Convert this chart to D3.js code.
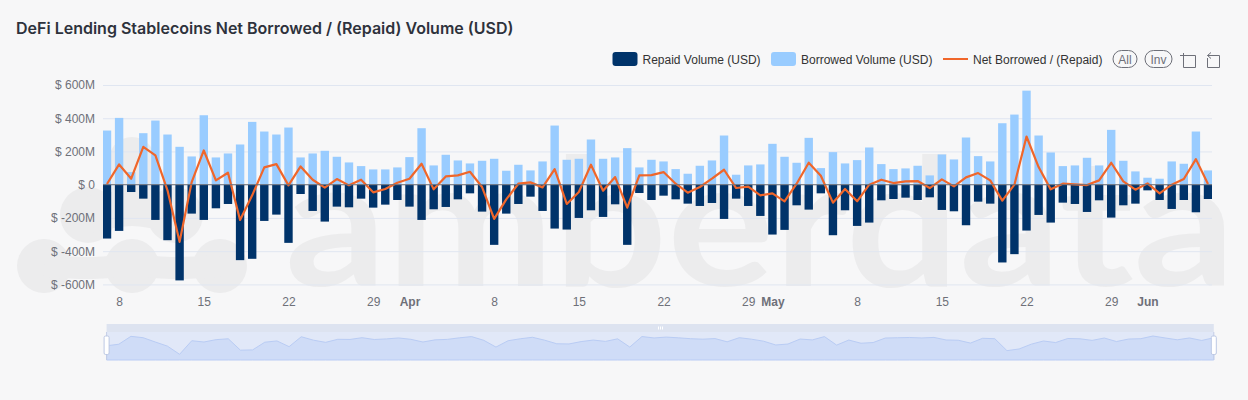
<!DOCTYPE html>
<html>
<head>
<meta charset="utf-8">
<script src="https://cdn.jsdelivr.net/npm/d3@7"></script>
<style>
  html, body { margin: 0; padding: 0; background: #f7f7f8; }
  svg { display: block; }
</style>
</head>
<body>
<div id="chart"></div>
<script>
const titleText = "DeFi Lending Stablecoins Net Borrowed / (Repaid) Volume (USD)"
const startDate = "2023-03-07"
const yTicks = [600, 400, 200, 0, -200, -400, -600]
const xTickDays = ["03-08", "03-15", "03-22", "03-29", "04-01", "04-08", "04-15", "04-22", "04-29", "05-01", "05-08", "05-15", "05-22", "05-29", "06-01"]
const monthLabels = { "04-01": "Apr", "05-01": "May", "06-01": "Jun" }

// $M
const borrowed = [326, 402, 76, 310, 386, 302, 228, 170, 418, 164, 188, 242, 378, 320, 302, 344, 164, 188, 204, 168, 134, 112, 92, 92, 104, 166,
  340, 116, 180, 146, 128, 144, 156, 84, 120, 86, 140, 356, 150, 156, 272, 156, 164, 220, 104, 150, 140, 94, 66, 114, 146, 296, 60, 116, 122,
  246, 168, 132, 282, 100, 196, 128, 148, 224, 124, 94, 98, 114, 56, 182, 152, 284, 172, 140, 370, 422, 566, 296, 194, 112, 116, 162, 116, 330, 144, 80,
  42, 36, 140, 126, 320, 86]
const repaid = [-324, -278, -44, -84, -212, -334, -576, -174, -212, -142, -116, -454, -446, -218, -180, -350, -56, -158, -222, -132, -136, -84, -138, -120, -92, -132,
  -212, -148, -134, -88, -52, -162, -362, -174, -116, -72, -158, -264, -270, -200, -154, -194, -118, -362, -50, -92, -66, -88, -114, -128, -110, -206, -84, -128, -188,
  -300, -272, -124, -150, -52, -304, -154, -248, -228, -94, -86, -78, -92, -76, -152, -160, -244, -102, -114, -468, -418, -276, -182, -228, -108, -116, -164, -94, -198, -124, -114,
  -34, -92, -146, -92, -166, -86]
const net = [4, 122, 36, 228, 176, -34, -344, 16, 206, 26, 72, -212, -64, 104, 124, -4, 110, 30, -18, 34, -4, 30, -46, -26, 12, 36,
  126, -28, 50, 56, 78, -14, -206, -88, 6, 14, -16, 94, -116, -44, 120, -36, 46, -138, 56, 58, 76, 6, -48, -14, 36, 90, -20, -12, -64,
  -52, -100, 6, 132, 54, -108, -26, -100, 0, 30, 10, 20, 22, -20, 32, -10, 44, 70, 26, -96, 0, 290, 106, -28, 6, 2, -2, 26, 132, 20, -30,
  8, -52, 0, 34, 154, 4]

const legendItems = [
  { name: "Repaid Volume (USD)", color: "#00336a", kind: "bar", x: 612.5 },
  { name: "Borrowed Volume (USD)", color: "#99ccff", kind: "bar", x: 771 },
  { name: "Net Borrowed / (Repaid)", color: "#f0662a", kind: "line", x: 943 }
]

const width = 1248
const height = 400
const parseDay = d3.timeParse("%Y-%m-%d")
const dates = borrowed.map((d, i) => d3.timeDay.offset(parseDay(startDate), i))

const svg = d3.select("#chart").append("svg")
  .attr("width", width)
  .attr("height", height)
  .style("font-family", "'Liberation Sans', Arial, sans-serif")

// watermark
const markColor = "#ececed"
const mark = svg.append("g").attr("fill", markColor)
mark.append("text")
  .attr("x", 285)
  .attr("y", 286)
  .attr("font-family", "Lato")
  .attr("font-size", 178)
  .attr("font-weight", 700)
  .attr("textLength", 950)
  .attr("lengthAdjust", "spacingAndGlyphs")
  .text("amberdata")
const logoBlobs = [[132, 160, 23], [88, 215, 28], [175, 215, 28], [44, 266, 27], [132, 266, 27], [220, 266, 27]]
mark.selectAll("circle").data(logoBlobs).join("circle")
  .attr("cx", d => d[0]).attr("cy", d => d[1]).attr("r", d => d[2])
const logoLink = d3.line().curve(d3.curveCatmullRom)
mark.append("path")
  .attr("fill", "none").attr("stroke", markColor).attr("stroke-width", 22)
  .attr("d", logoLink([[44, 266], [88, 268], [132, 266], [176, 268], [220, 266]]))
mark.append("path")
  .attr("fill", "none").attr("stroke", markColor).attr("stroke-width", 36)
  .attr("d", logoLink([[88, 215], [132, 208], [175, 215]]))
mark.append("path")
  .attr("fill", "none").attr("stroke", markColor).attr("stroke-width", 40)
  .attr("d", logoLink([[132, 160], [132, 205]]))

svg.append("text")
  .attr("x", 16).attr("y", 34)
  .attr("font-family", "Inter").attr("font-size", 16).attr("font-weight", 600)
  .attr("fill", "#2e323c")
  .text(titleText)

const x = d3.scalePoint()
  .domain(d3.range(dates.length))
  .range([107, 1208])
const barWidth = 8.4

const y = d3.scaleLinear()
  .domain([-600, 600])
  .range([284.4, 85])

const timeX = d3.scaleTime()
  .domain([dates[0], dates[dates.length - 1]])
  .range([107, 1208])

const yAxis = d3.axisLeft(y)
  .tickValues(yTicks)
  .tickSize(-(1212 - 103))
  .tickPadding(8)
  .tickFormat(d => d === 0 ? "$ 0" : `$ ${d}M`)

svg.append("g")
  .attr("transform", "translate(103,0)")
  .call(yAxis)
  .call(g => g.select(".domain").remove())
  .call(g => g.selectAll(".tick line").attr("stroke", "#e0e6f1"))
  .call(g => g.selectAll(".tick text").attr("fill", "#6e7079").attr("font-size", 12).attr("font-family", "'Liberation Sans'"))

svg.append("clipPath").attr("id", "plot-clip").append("rect")
  .attr("x", 103).attr("y", 60).attr("width", 1109).attr("height", 240)
const plot = svg.append("g").attr("clip-path", "url(#plot-clip)")

plot.append("g").selectAll("rect").data(borrowed).join("rect")
  .attr("x", (d, i) => x(i) - barWidth / 2)
  .attr("width", barWidth)
  .attr("y", d => y(d))
  .attr("height", d => y(0) - y(d))
  .attr("fill", "#99ccff")

plot.append("g").selectAll("rect").data(repaid).join("rect")
  .attr("x", (d, i) => x(i) - barWidth / 2)
  .attr("width", barWidth)
  .attr("y", y(0))
  .attr("height", d => y(d) - y(0))
  .attr("fill", "#00336a")

svg.append("line")
  .attr("x1", 103).attr("x2", 1212)
  .attr("y1", y(0)).attr("y2", y(0))
  .attr("stroke", "#6e7079")

plot.append("path")
  .datum(net)
  .attr("fill", "none")
  .attr("stroke", "#f0662a")
  .attr("stroke-width", 2.2)
  .attr("stroke-linejoin", "round")
  .attr("d", d3.line().x((d, i) => x(i)).y(d => y(d)))

const xAxis = d3.axisBottom(timeX)
  .tickValues(xTickDays.map(d => parseDay("2023-" + d)))
  .tickSize(0)
  .tickPadding(7)
  .tickFormat(d => {
    const key = d3.timeFormat("%m-%d")(d)
    return monthLabels[key] || d3.timeFormat("%-d")(d)
  })

svg.append("g")
  .attr("transform", "translate(0,290)")
  .call(xAxis)
  .call(g => g.select(".domain").remove())
  .call(g => g.selectAll(".tick text")
    .attr("fill", "#6e7079")
    .attr("font-size", 12)
    .attr("font-family", "'Liberation Sans'")
    .attr("font-weight", d => monthLabels[d3.timeFormat("%m-%d")(d)] ? 700 : 400))

// legend
const legend = svg.append("g")
legendItems.forEach(item => {
  if (item.kind === "bar") {
    legend.append("rect")
      .attr("x", item.x).attr("y", 52).attr("width", 25).attr("height", 14).attr("rx", 3)
      .attr("fill", item.color)
  } else {
    legend.append("line")
      .attr("x1", item.x).attr("x2", item.x + 25).attr("y1", 59).attr("y2", 59)
      .attr("stroke", item.color).attr("stroke-width", 2)
  }
  legend.append("text")
    .attr("x", item.x + 30).attr("y", 63.5)
    .attr("font-size", 12).attr("fill", "#333")
    .text(item.name)
})

// select all / inverse pills
const pills = [{ label: "All", x: 1113, w: 24 }, { label: "Inv", x: 1145, w: 27 }]
pills.forEach(p => {
  legend.append("rect")
    .attr("x", p.x).attr("y", 50.5).attr("width", p.w).attr("height", 17).attr("rx", 8.5)
    .attr("fill", "none").attr("stroke", "#6e7079")
  legend.append("text")
    .attr("x", p.x + p.w / 2).attr("y", 63.5).attr("text-anchor", "middle")
    .attr("font-size", 12).attr("fill", "#6e7079")
    .text(p.label)
})
legend.append("path").attr("fill", "none").attr("stroke", "#6e7079")
  .attr("d", "M1180 55.5H1195.5V67.5H1183.5V53")
legend.append("path").attr("fill", "none").attr("stroke", "#6e7079")
  .attr("d", "M1207.5 58V67.5H1219.5V55.5H1207.5L1211 52.5M1207.5 55.5L1211 58.5")

// data zoom slider, shadow comes from the repaid series
const sliderX = d3.scalePoint().domain(d3.range(repaid.length)).range([106.6, 1213.8])
const sliderY = d3.scaleLinear().domain([-34, -576]).range([336, 354.3])
const slider = svg.append("g")
slider.append("rect").attr("x", 106.6).attr("y", 324).attr("width", 1107.2).attr("height", 8).attr("fill", "#dde3f0")
slider.append("rect").attr("x", 106.6).attr("y", 332).attr("width", 1107.2).attr("height", 28).attr("fill", "#e1e8f8")
slider.append("path")
  .datum(repaid)
  .attr("fill", "#cfdcf7")
  .attr("stroke", "#b9ccf4")
  .attr("d", d3.area().x((d, i) => sliderX(i)).y0(360).y1(d => sliderY(d)))
;[658.5, 660.5, 662.5].forEach(gx => {
  slider.append("line").attr("x1", gx).attr("x2", gx).attr("y1", 326.5).attr("y2", 329.5).attr("stroke", "#fff")
})
;[106.6, 1213.8].forEach(hx => {
  slider.append("line").attr("x1", hx).attr("x2", hx).attr("y1", 332).attr("y2", 360).attr("stroke", "#c3cde6")
  slider.append("rect").attr("x", hx - 2.5).attr("y", 336).attr("width", 5).attr("height", 18.5).attr("rx", 1.5)
    .attr("fill", "#fff").attr("stroke", "#bcc8e4")
})
</script>
</body>
</html>
